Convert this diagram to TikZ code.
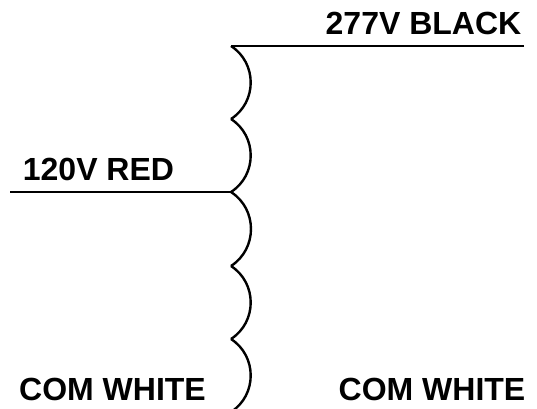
\documentclass[tikz,border=0pt]{standalone}
\usepackage{fontspec}
\setmainfont{Liberation Sans}
\tikzset{
  wirelabel/.style={font=\bfseries\fontsize{32}{32}\selectfont,inner sep=0pt,anchor=base},
  wire/.style={line width=2.4pt},
  lobe/.style={out=-33,in=33,looseness=1.1},
}
\begin{document}
\begin{tikzpicture}[x=1pt,y=-1pt]
        \useasboundingbox(0,0)rectangle(537,408);
        \coordinate(topend)at(524,46);
        \coordinate(toptap)at(231,46);
        \coordinate(midend)at(10,192);
        \coordinate(midtap)at(231,192);
        \coordinate(cusp1)at(231,119);
        \coordinate(cusp2)at(231,266);
        \coordinate(cusp3)at(231,339);
        \coordinate(botend)at(231,412);
        \draw[wire](topend)--(toptap);
        \draw[wire](midend)--(midtap);
        \draw[wire](toptap)to[lobe](cusp1);
        \draw[wire](cusp1)to[lobe](midtap);
        \draw[wire](midtap)to[lobe](cusp2);
        \draw[wire](cusp2)to[lobe](cusp3);
        \draw[wire](cusp3)to[lobe](botend);
        \node[wirelabel](lab277)at(423.5,34){277V BLACK};
        \node[wirelabel](lab120)at(98.5,180){120V RED};
        \node[wirelabel](labcoml)at(112.5,400){COM WHITE};
        \node[wirelabel](labcomr)at(432,400){COM WHITE};
    \end{tikzpicture}
\end{document}
